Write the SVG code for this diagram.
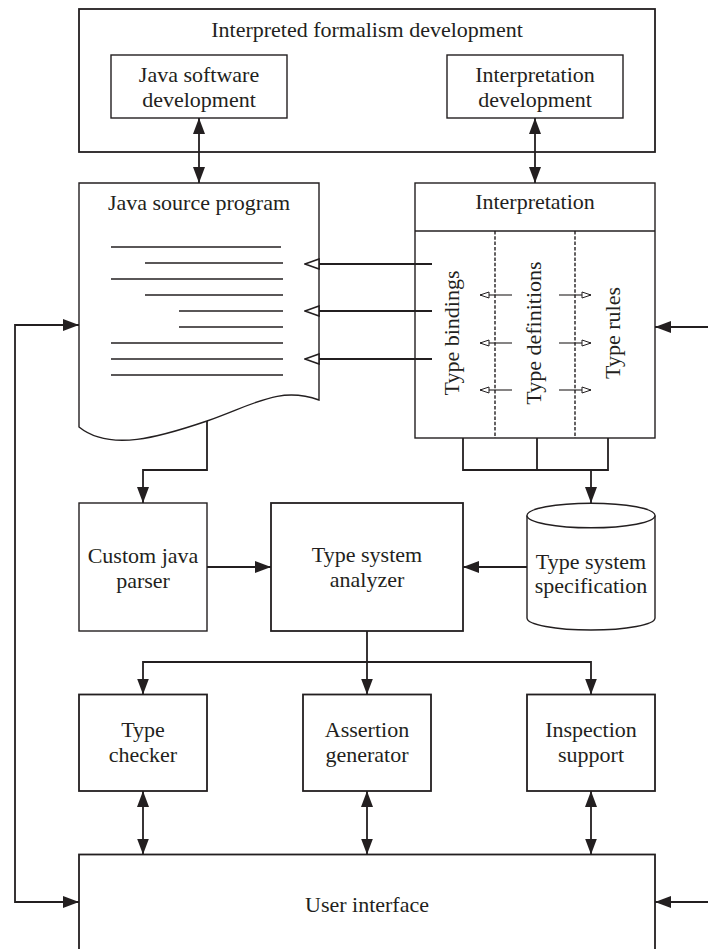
<svg xmlns="http://www.w3.org/2000/svg" width="708" height="949" viewBox="0 0 708 949">
  <style>
    .box { fill: #ffffff; stroke: #231f20; stroke-width: 1.8; }
    .thin { fill: #ffffff; stroke: #231f20; stroke-width: 1.4; }
    .ln { fill: none; stroke: #231f20; stroke-width: 1.8; }
    .code { fill: none; stroke: #231f20; stroke-width: 1.3; }
    .dash { fill: none; stroke: #231f20; stroke-width: 1.4; stroke-dasharray: 3.5 1.8; }
    .small { fill: none; stroke: #231f20; stroke-width: 1.1; }
    .t { font-family: "Liberation Serif", "Times New Roman", serif; font-size: 22px; fill: #231f20; text-anchor: middle; }
  </style>
  <defs>
    <marker id="arrow" viewBox="0 0 16 12" refX="16" refY="6" markerWidth="16" markerHeight="12" markerUnits="userSpaceOnUse" orient="auto-start-reverse">
      <path d="M0,0 L16,6 L0,12 z" fill="#231f20"/>
    </marker>
    <marker id="open" viewBox="0 0 16 12" refX="15" refY="6" markerWidth="16" markerHeight="12" markerUnits="userSpaceOnUse" orient="auto">
      <path d="M1,1 L15,6 L1,11 z" fill="#ffffff" stroke="#231f20" stroke-width="1.6"/>
    </marker>
    <marker id="openSmall" viewBox="0 0 11 8" refX="10" refY="4" markerWidth="11" markerHeight="8" markerUnits="userSpaceOnUse" orient="auto">
      <path d="M1,1 L10,4 L1,7 z" fill="#ffffff" stroke="#231f20" stroke-width="1"/>
    </marker>
  </defs>

  <!-- Outer development frame -->
  <g id="formalism-dev">
    <rect class="box" x="79" y="9" width="576" height="143"/>
    <text class="t" x="367" y="37">Interpreted formalism development</text>
  </g>
  <g id="java-dev">
    <rect class="thin" x="111" y="55" width="176" height="63"/>
    <text class="t" x="199" y="82">Java software</text>
    <text class="t" x="199" y="107">development</text>
  </g>
  <g id="interp-dev">
    <rect class="thin" x="447" y="55" width="176" height="63"/>
    <text class="t" x="535" y="82">Interpretation</text>
    <text class="t" x="535" y="107">development</text>
  </g>

  <!-- Source document -->
  <g id="java-source">
    <path class="thin" d="M79,183 H319 V400 C280,386 255,404 207,421 C160,437 110,452 79,427 Z"/>
    <text class="t" x="199" y="210">Java source program</text>
    <line class="code" x1="111" y1="247" x2="281" y2="247"/>
    <line class="code" x1="145" y1="263" x2="283" y2="263"/>
    <line class="code" x1="111" y1="279" x2="283" y2="279"/>
    <line class="code" x1="145" y1="295" x2="283" y2="295"/>
    <line class="code" x1="179" y1="311" x2="283" y2="311"/>
    <line class="code" x1="179" y1="327" x2="283" y2="327"/>
    <line class="code" x1="111" y1="343" x2="283" y2="343"/>
    <line class="code" x1="111" y1="359" x2="283" y2="359"/>
    <line class="code" x1="111" y1="375" x2="283" y2="375"/>
  </g>

  <!-- Interpretation with its three sections -->
  <g id="interpretation">
    <rect class="thin" x="415" y="183" width="240" height="255"/>
    <line class="ln" x1="415" y1="231" x2="655" y2="231" style="stroke-width:1.4"/>
    <text class="t" x="535" y="209">Interpretation</text>
    <line class="dash" x1="495" y1="231" x2="495" y2="438"/>
    <line class="dash" x1="575" y1="231" x2="575" y2="438"/>
    <text class="t" transform="translate(459,333) rotate(-90)">Type bindings</text>
    <text class="t" transform="translate(541,333) rotate(-90)">Type definitions</text>
    <text class="t" transform="translate(620,333) rotate(-90)">Type rules</text>
    <line class="small" x1="512" y1="295" x2="480" y2="295" marker-end="url(#openSmall)"/>
    <line class="small" x1="512" y1="343" x2="480" y2="343" marker-end="url(#openSmall)"/>
    <line class="small" x1="512" y1="390" x2="480" y2="390" marker-end="url(#openSmall)"/>
    <line class="small" x1="559" y1="295" x2="591" y2="295" marker-end="url(#openSmall)"/>
    <line class="small" x1="559" y1="343" x2="591" y2="343" marker-end="url(#openSmall)"/>
    <line class="small" x1="559" y1="390" x2="591" y2="390" marker-end="url(#openSmall)"/>
  </g>

  <g id="parser">
    <rect class="thin" x="79" y="503" width="128" height="128"/>
    <text class="t" x="143" y="563">Custom java</text>
    <text class="t" x="143" y="588">parser</text>
  </g>
  <g id="analyzer">
    <rect class="box" x="271" y="503" width="192" height="128"/>
    <text class="t" x="367" y="562">Type system</text>
    <text class="t" x="367" y="587">analyzer</text>
  </g>
  <g id="specification">
    <path class="thin" d="M527,515.5 V618 A64,12 0 0 0 655,618 V515.5"/>
    <ellipse class="thin" cx="591" cy="515.5" rx="64" ry="12.3"/>
    <text class="t" x="591" y="569">Type system</text>
    <text class="t" x="591" y="593">specification</text>
  </g>

  <g id="type-checker">
    <rect class="box" x="79" y="694.5" width="128" height="96.5"/>
    <text class="t" x="143" y="737">Type</text>
    <text class="t" x="143" y="762">checker</text>
  </g>
  <g id="assertion-generator">
    <rect class="box" x="303" y="694.5" width="128" height="96.5"/>
    <text class="t" x="367" y="737">Assertion</text>
    <text class="t" x="367" y="762">generator</text>
  </g>
  <g id="inspection-support">
    <rect class="box" x="527" y="694.5" width="128" height="96.5"/>
    <text class="t" x="591" y="737">Inspection</text>
    <text class="t" x="591" y="762">support</text>
  </g>
  <g id="user-interface">
    <rect class="box" x="79" y="854.5" width="576" height="110"/>
    <text class="t" x="367" y="912">User interface</text>
  </g>

  <!-- Connectors -->
  <g id="connectors">
    <line class="ln" x1="199" y1="118" x2="199" y2="183" marker-start="url(#arrow)" marker-end="url(#arrow)"/>
    <line class="ln" x1="535" y1="118" x2="535" y2="183" marker-start="url(#arrow)" marker-end="url(#arrow)"/>
    <line class="ln" x1="432" y1="264" x2="305" y2="264" marker-end="url(#open)"/>
    <line class="ln" x1="432" y1="311" x2="305" y2="311" marker-end="url(#open)"/>
    <line class="ln" x1="432" y1="359" x2="305" y2="359" marker-end="url(#open)"/>
    <path class="ln" d="M79,325 H15 V902 H79" marker-start="url(#arrow)" marker-end="url(#arrow)"/>
    <line class="ln" x1="708" y1="327" x2="655" y2="327" marker-end="url(#arrow)"/>
    <line class="ln" x1="708" y1="902" x2="655" y2="902" marker-end="url(#arrow)"/>
    <path class="ln" d="M207,421 V470 H143 V503" marker-end="url(#arrow)"/>
    <path class="ln" d="M463,438 V470 H608 V438 M537,438 V470"/>
    <line class="ln" x1="591" y1="470" x2="591" y2="503" marker-end="url(#arrow)"/>
    <line class="ln" x1="207" y1="567" x2="271" y2="567" marker-end="url(#arrow)"/>
    <line class="ln" x1="527" y1="567" x2="463" y2="567" marker-end="url(#arrow)"/>
    <line class="ln" x1="367" y1="631" x2="367" y2="694.5" marker-end="url(#arrow)"/>
    <path class="ln" d="M143,694.5 V662 H591 V694.5" marker-start="url(#arrow)" marker-end="url(#arrow)"/>
    <line class="ln" x1="143" y1="791" x2="143" y2="854.5" marker-start="url(#arrow)" marker-end="url(#arrow)"/>
    <line class="ln" x1="367" y1="791" x2="367" y2="854.5" marker-start="url(#arrow)" marker-end="url(#arrow)"/>
    <line class="ln" x1="591" y1="791" x2="591" y2="854.5" marker-start="url(#arrow)" marker-end="url(#arrow)"/>
  </g>
</svg>
